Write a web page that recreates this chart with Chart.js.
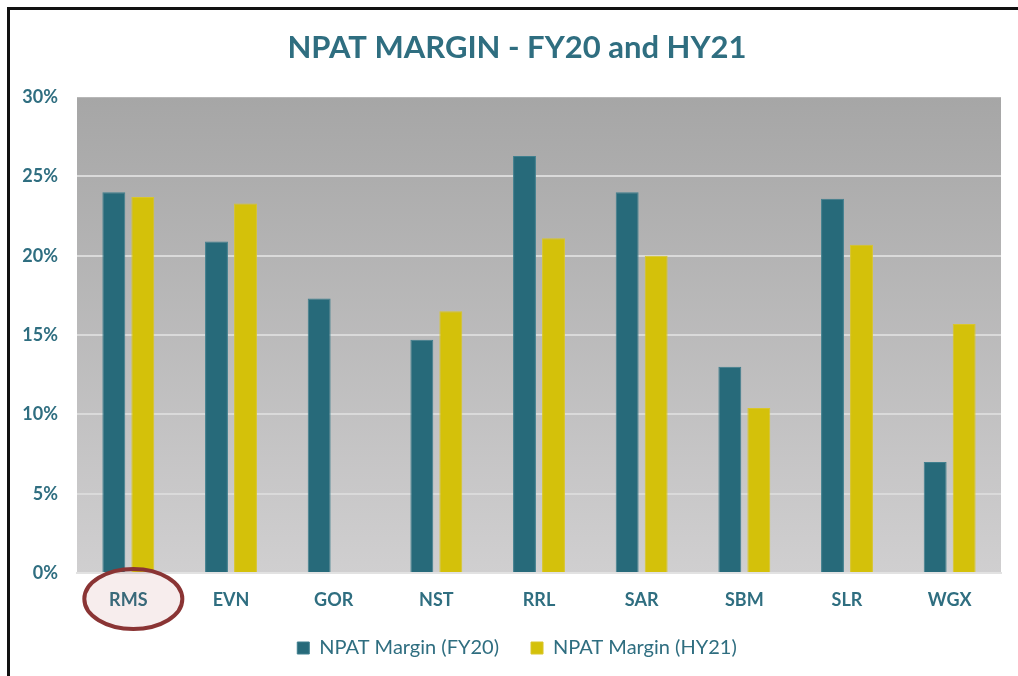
<!DOCTYPE html>
<html>
<head>
<meta charset="utf-8">
<script src="https://cdn.jsdelivr.net/npm/chart.js@4.4.1/dist/chart.umd.min.js"></script>
<style>
  html, body { margin: 0; padding: 0; background: #fff; }
  #wrap { position: relative; width: 1018px; height: 676px; overflow: hidden; }
  #frame { position: absolute; left: 7px; top: 7px; width: 1100px; height: 800px;
           border-left: 3px solid #111; border-top: 3px solid #111; pointer-events: none; }
</style>
</head>
<body>
<div id="wrap">
  <canvas id="myChart" width="1018" height="676"></canvas>
  <div id="frame"></div>
</div>
<script>
// data
const companies = ['RMS', 'EVN', 'GOR', 'NST', 'RRL', 'SAR', 'SBM', 'SLR', 'WGX'];
const fy20 = [24.0, 20.9, 17.3, 14.7, 26.3, 24.0, 13.0, 23.6, 7.0];
const hy21 = [23.7, 23.3, null, 16.5, 21.1, 20.0, 10.4, 20.7, 15.7];
const seriesNames = ['NPAT Margin (FY20)', 'NPAT Margin (HY21)'];
const yTicks = [0, 5, 10, 15, 20, 25, 30];

const teal = '#276a7a';
const yellow = '#d4c10a';
const textCol = '#2f6e80';
const font = 'Lato, "Open Sans", sans-serif';
const plotBottom = 573; // where the plot area should end

// gray gradient behind the bars
const plotBg = {
  id: 'plotBg',
  beforeDraw(chart) {
    const { ctx, chartArea: a } = chart;
    const g = ctx.createLinearGradient(0, a.top, 0, a.bottom);
    g.addColorStop(0, '#a6a6a6');
    g.addColorStop(1, '#d0cfd0');
    ctx.save();
    ctx.fillStyle = g;
    ctx.fillRect(a.left, a.top, a.right - a.left, a.bottom - a.top);
    ctx.restore();
  }
};

// red ring round the first category label
const ring = {
  id: 'ring',
  afterDraw(chart) {
    const x = chart.scales.x.getPixelForValue(0) + 5;
    const y = chart.chartArea.bottom + 26;
    const ctx = chart.ctx;
    ctx.save();
    ctx.beginPath();
    ctx.ellipse(x, y, 49, 30, 0, 0, Math.PI * 2);
    ctx.fillStyle = 'rgba(170,50,50,0.09)';
    ctx.fill();
    ctx.lineWidth = 4;
    ctx.strokeStyle = '#8a3434';
    ctx.stroke();
    ctx.restore();
  }
};

const ctx = document.getElementById('myChart').getContext('2d');
new Chart(ctx, {
  type: 'bar',
  data: {
    labels: companies,
    datasets: [
      { label: seriesNames[0], data: fy20, backgroundColor: teal, borderColor: '#3f7f8e', borderWidth: 1 },
      { label: seriesNames[1], data: hy21, backgroundColor: yellow, borderColor: '#d9c62a', borderWidth: 1 }
    ]
  },
  options: {
    responsive: false,
    animation: false,
    layout: { padding: { left: 20, right: 4, top: 0, bottom: 8 } },
    datasets: { bar: { categoryPercentage: 0.565, barPercentage: 0.79 } },
    scales: {
      x: {
        afterFit(scale) {
          const ch = scale.chart;
          const lh = ch.legend ? ch.legend.height : 0;
          scale.height = Math.max(0, ch.height - 8 - lh - plotBottom);
        },
        grid: { display: false, drawTicks: false },
        border: { display: true, color: '#e2e2e2', width: 2 },
        ticks: { color: textCol, padding: 16, font: { family: font, size: 18, weight: 'bold' } }
      },
      y: {
        min: 0, max: 30,
        afterFit(scale) { scale.width = 57; },
        afterBuildTicks(scale) { scale.ticks = yTicks.map(v => ({ value: v })); },
        grid: {
          drawTicks: false, lineWidth: 2,
          color: ctx => (ctx.tick && (ctx.tick.value === 0 || ctx.tick.value === 30)) ? 'rgba(0,0,0,0)' : '#dadada'
        },
        border: { display: false },
        ticks: {
          color: textCol, padding: 19,
          font: { family: font, size: 18, weight: 'bold' },
          callback: v => v + '%'
        }
      },
      // empty spacer on the right so title and legend sit where the original has them
      yRight: {
        type: 'linear', position: 'right',
        afterFit(scale) { scale.width = 13; },
        grid: { display: false, drawTicks: false },
        border: { display: false },
        ticks: { display: false }
      }
    },
    plugins: {
      title: {
        display: true,
        text: 'NPAT MARGIN - FY20 and HY21',
        color: textCol,
        font: { family: font, size: 31, weight: 'bold' },
        padding: { top: 29, bottom: 31 }
      },
      legend: {
        position: 'bottom',
        labels: {
          color: textCol,
          boxWidth: 12, boxHeight: 12,
          padding: 32,
          font: { family: font, size: 20 }
        }
      },
      tooltip: { enabled: false }
    }
  },
  plugins: [plotBg, ring]
});
</script>
</body>
</html>
